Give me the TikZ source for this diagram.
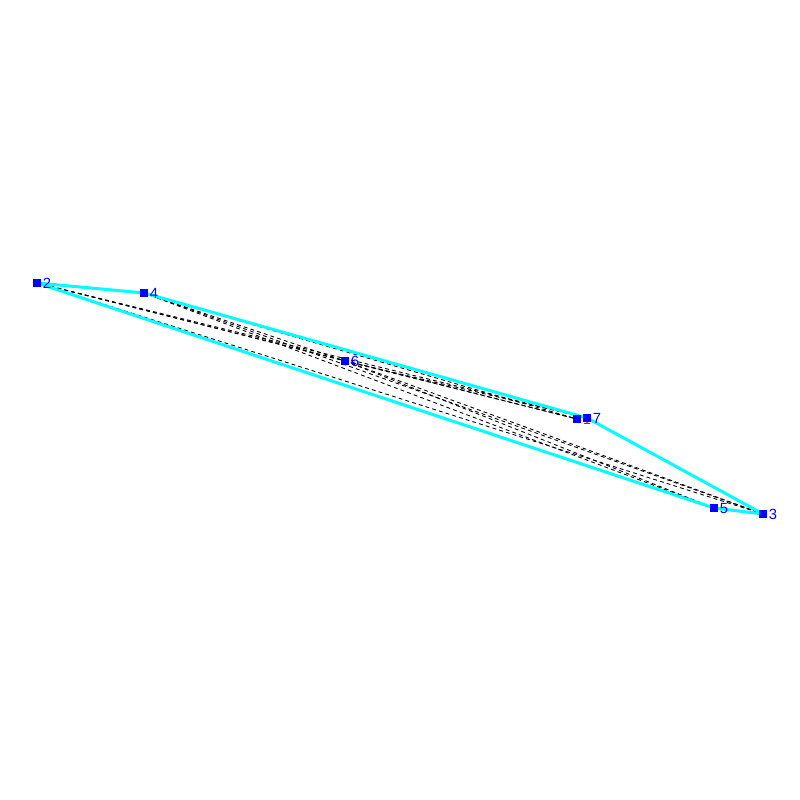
\documentclass[tikz,border=0pt]{standalone}
\usepackage{fontspec}
\setmainfont{Liberation Sans}
\usetikzlibrary{backgrounds}

\definecolor{hullcyan}{RGB}{0,255,255}
\tikzstyle{pt} = [draw=none,fill=blue,minimum size=0.075cm,inner sep=0pt]
\tikzstyle{lbl} = [text=blue,font=\fontsize{4.2}{5}\selectfont,inner sep=0.2pt]
\tikzstyle{hull} = [draw=hullcyan,line width=0.85pt]
\tikzstyle{diag} = [draw=black,line width=0.25pt,dash pattern=on 1.1pt off 0.9pt]

\begin{document}
\begin{tikzpicture}[scale=1]
\useasboundingbox (0,0) rectangle (8,-8);

% points
\node[pt,label={[lbl,text=red]right:1}] (p1) at (5.77,-4.19) {};
\node[pt,label={[lbl]right:2}] (p2) at (0.37,-2.83) {};
\node[pt,label={[lbl]right:3}] (p3) at (7.63,-5.14) {};
\node[pt,label={[lbl]right:4}] (p4) at (1.44,-2.93) {};
\node[pt,label={[lbl]right:5}] (p5) at (7.14,-5.08) {};
\node[pt,label={[lbl]right:6}] (p6) at (3.45,-3.61) {};
\node[pt,label={[lbl]right:7}] (p7) at (5.87,-4.18) {};

\begin{scope}[on background layer]
% diagonals
\foreach \a/\b in {2/6,2/1,2/7,2/3,4/6,4/1,4/7,4/5,4/3,6/1,6/7,6/5,6/3}{
	\draw[diag] (p\a.center) -- (p\b.center);
}
% hull
\draw[hull] (p2.center) -- (p4.center); % 2-4
\draw[hull] (p4.center) -- (p7.center); % 4-7
\draw[hull] (p7.center) -- (p3.center); % 7-3
\draw[hull] (p3.center) -- (p5.center); % 3-5
\draw[hull] (p5.center) -- (p2.center); % 5-2
\end{scope}

\end{tikzpicture}
\end{document}
